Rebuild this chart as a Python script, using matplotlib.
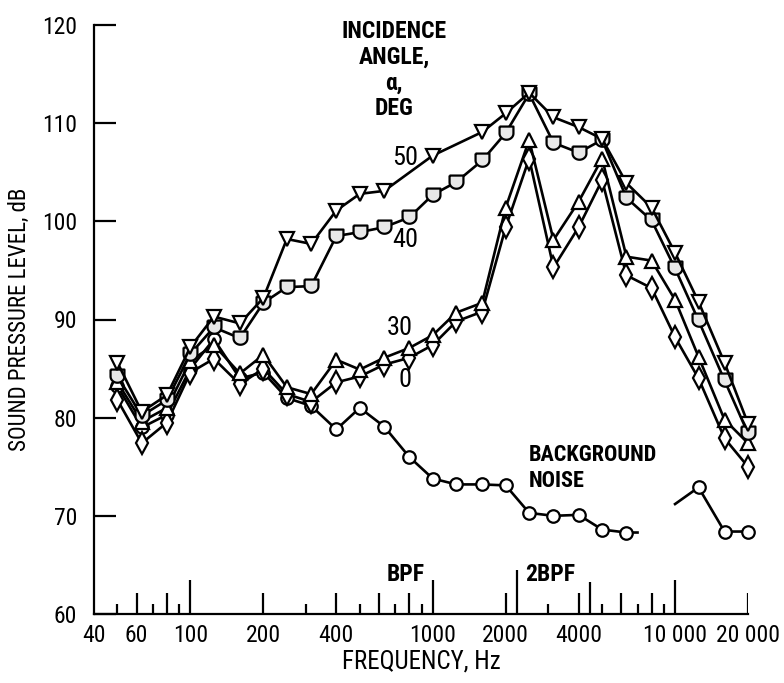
import numpy as np
import matplotlib
matplotlib.use('Agg')
import matplotlib.pyplot as plt
from matplotlib import font_manager
from matplotlib.path import Path

# Fuente estrecha parecida a la del informe original
nombres = {f.name for f in font_manager.fontManager.ttflist}
fuente = 'Roboto'
for candidata in ['Liberation Sans Narrow', 'DejaVu Sans Condensed', 'Roboto Condensed']:
    if candidata in nombres:
        fuente = candidata
        break
plt.rcParams['font.family'] = [fuente, 'DejaVu Sans']

# Bandas de tercio de octava (Hz)
freq_50 = [50, 63, 80, 100, 125, 160, 200, 250, 315, 400, 500, 630, 1000, 1600,
           2000, 2500, 3150, 4000, 5000, 6300, 8000, 10000, 12500, 16000, 20000]
spl_50 = [85.6, 80.6, 82.3, 87.2, 90.3, 89.6, 92.2, 98.2, 97.7, 101.1, 102.8, 103.1, 106.7, 109.1,
          111.0, 113.1, 110.6, 109.6, 108.4, 103.9, 101.4, 96.8, 91.8, 85.6, 79.4]

freq_tercios = [50, 63, 80, 100, 125, 160, 200, 250, 315, 400, 500, 630, 800, 1000, 1250, 1600,
                2000, 2500, 3150, 4000, 5000, 6300, 8000, 10000, 12500, 16000, 20000]
spl_40 = [84.2, 80.2, 81.8, 86.5, 89.2, 88.1, 91.7, 93.3, 93.4, 98.5, 98.9, 99.4, 100.4, 102.7, 104.0, 106.2,
          109.0, 113.0, 108.0, 107.0, 108.3, 102.4, 100.1, 95.2, 89.9, 83.8, 78.4]
spl_30 = [83.6, 79.6, 81.0, 85.8, 87.4, 84.5, 86.4, 83.1, 82.4, 85.9, 84.9, 86.1, 87.1, 88.4, 90.7, 91.7,
          101.4, 108.3, 98.1, 102.0, 106.4, 96.4, 96.0, 92.0, 86.2, 79.8, 77.4]
spl_0 = [81.8, 77.4, 79.5, 84.6, 86.0, 83.4, 85.0, 82.4, 81.6, 83.6, 84.2, 85.4, 86.1, 87.4, 89.8, 90.8,
         99.4, 106.4, 95.3, 99.4, 104.2, 94.5, 93.2, 88.2, 84.0, 77.9, 75.0]

# Ruido de fondo (dos tramos, el ultimo punto de cada tramo sin marcador)
freq_fondo1 = [50, 63, 80, 100, 125, 160, 200, 250, 315, 400, 500, 630, 800, 1000, 1250, 1600,
               2000, 2500, 3150, 4000, 5000, 6300, 7000]
spl_fondo1 = [83.2, 79.0, 80.3, 85.0, 88.0, 84.0, 84.6, 82.0, 81.2, 78.8, 81.0, 79.1, 76.0, 73.8, 73.2, 73.2,
              73.1, 70.3, 70.0, 70.1, 68.6, 68.3, 68.3]
freq_fondo2 = [10000, 12500, 16000, 20000]
spl_fondo2 = [71.2, 72.9, 68.4, 68.4]

# Etiquetas del eje x
xticks = [40, 60, 100, 200, 400, 1000, 2000, 4000, 10000, 20000]
xticklabels = ['40', '60', '100', '200', '400', '1000', '2000', '4000', '10 000', '20 000']
yticks = [60, 70, 80, 90, 100, 110, 120]

# Marcas del eje inferior: decadas, pares, impares y armonicos de BPF
marcas_decada = [100, 1000, 10000]
marcas_pares = [60, 80, 200, 400, 600, 800, 2000, 4000, 6000, 8000, 20000]
marcas_impares = [50, 70, 90, 300, 500, 700, 900, 3000, 5000, 7000, 9000]
marca_2bpf = 2220
marca_4bpf = 4440

# Marcador en forma de escudo para 40 grados
ang = np.linspace(0, -np.pi, 20)
verts = [(-1, 1), (1, 1)] + list(zip(np.cos(ang), 0.9 * np.sin(ang))) + [(-1, 1)]
escudo = Path(verts)

fig = plt.figure(figsize=(7.84, 6.83), dpi=100)
ax = fig.add_axes([94 / 784, 69 / 683, 654 / 784, 589 / 683])

estilo = dict(color='black', linewidth=1.9, markerfacecolor='white',
              markeredgecolor='black', markeredgewidth=1.6, clip_on=False)
ax.plot(freq_fondo1, spl_fondo1, marker='o', markersize=9,
        markevery=list(range(len(freq_fondo1) - 1)), **estilo)
ax.plot(freq_fondo2, spl_fondo2, marker='o', markersize=9, markevery=[1, 2, 3], **estilo)
ax.plot(freq_tercios, spl_0, marker='d', markersize=11, **estilo)
ax.plot(freq_tercios, spl_30, marker='^', markersize=10.5, **estilo)
estilo40 = dict(estilo, markerfacecolor='#e8e8e8')
ax.plot(freq_tercios, spl_40, marker=escudo, markersize=10, **estilo40)
ax.plot(freq_50, spl_50, marker='v', markersize=10.5, **estilo)

ax.set_xscale('log')
ax.set_xlim(40, 20000)
ax.set_ylim(60, 120)

ax.spines['top'].set_visible(False)
ax.spines['right'].set_visible(False)
ax.spines['left'].set_linewidth(1.6)
ax.spines['bottom'].set_linewidth(1.6)

ax.set_yticks(yticks)
ax.set_yticklabels([str(v) for v in yticks], fontsize=17)
ax.tick_params(axis='y', direction='in', length=16, width=1.6, pad=12)

ax.set_xticks(xticks)
ax.set_xticklabels(xticklabels, fontsize=17)
ax.xaxis.set_minor_locator(matplotlib.ticker.NullLocator())
ax.tick_params(axis='x', length=0, pad=7)

# Marcas verticales del eje de frecuencia (altura en fraccion del eje)
tr = ax.get_xaxis_transform()
ax.vlines(marcas_decada, 0, 34 / 589, color='black', linewidth=1.6, transform=tr)
ax.vlines(marcas_pares, 0, 21 / 589, color='black', linewidth=1.6, transform=tr)
ax.vlines(marcas_impares, 0, 10 / 589, color='black', linewidth=1.6, transform=tr)
ax.vlines([marca_2bpf], 0, 44 / 589, color='black', linewidth=1.6, transform=tr)
ax.vlines([marca_4bpf], 0, 32 / 589, color='black', linewidth=1.6, transform=tr)

ax.set_xlabel('FREQUENCY, Hz', fontsize=18, labelpad=2)
ax.set_ylabel('SOUND PRESSURE LEVEL, dB', fontsize=16.5, labelpad=8)

# Textos dentro del grafico
negrita = dict(fontweight='bold')
ax.text(692, 115.4, 'INCIDENCE\nANGLE,\n\u03b1,\nDEG', ha='center', va='center',
        multialignment='center', fontsize=17, linespacing=1.15, clip_on=False, **negrita)
ax.text(768, 106.5, '50', ha='center', va='center', fontsize=19)
ax.text(768, 98.1, '40', ha='center', va='center', fontsize=19)
ax.text(733, 89.1, '30', ha='center', va='center', fontsize=19)
ax.text(768, 83.8, '0', ha='center', va='center', fontsize=19)
ax.text(2480, 74.9, 'BACKGROUND\nNOISE', ha='left', va='center', fontsize=16, linespacing=1.25, **negrita)
ax.text(929, 64.0, 'BPF', ha='right', va='center', fontsize=17, **negrita)
ax.text(2404, 64.0, '2BPF', ha='left', va='center', fontsize=17, **negrita)

plt.savefig('out.png', dpi=100)
